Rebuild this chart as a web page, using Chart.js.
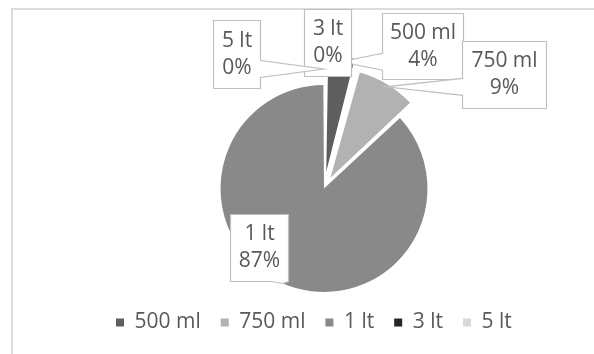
<!DOCTYPE html>
<html>
<head>
<meta charset="utf-8">
<script src="https://cdn.jsdelivr.net/npm/chart.js@4/dist/chart.umd.min.js"></script>
<style>
  html, body { margin: 0; padding: 0; background: #fff; overflow: hidden; width: 594px; height: 354px; }
  #frame { position: absolute; left: 11px; top: 8px; width: 700px; height: 500px; border: 2px solid #dcdcdc; box-sizing: border-box; }
  #wrap { position: absolute; left: 0; top: 0; width: 594px; height: 354px; }
</style>
</head>
<body>
<div id="frame"></div>
<div id="wrap"><canvas id="c" width="594" height="354"></canvas></div>
<script>
// Bottle sizes and their share of the total (percent)
const categories = ['500 ml', '750 ml', '1 lt', '3 lt', '5 lt'];
const shares = [4.2, 8.9, 86.8, 0.05, 0.05];

// Slice look
const sliceColors = ['#5e5e5e', '#b2b2b2', '#898989', '#262626', '#d9d9d9'];
const sliceOffsets = [68, 50, 0, 32, 32];

// Callout boxes: centre relative to the pie centre, box size,
// and how far out along the slice's mid-angle the pointer ends (fraction of radius)
const calloutDx = [98.5, 180, -65, 3.5, -87.5];
const calloutDy = [-143, -114.5, 58.5, -146.5, -135];
const calloutW = [81, 84, 58, 47, 47];
const calloutH = [66, 67, 67, 67, 68];
const calloutTip = [0.95, 0.97, 1.0, 1.0, 1.0];

const TEXT = '#595959';
const FONT = "'Open Sans', sans-serif";
const FONT_SIZE = 21;

Chart.defaults.font.family = FONT;
Chart.defaults.color = TEXT;

function clamp(v, lo, hi) { return Math.max(lo, Math.min(hi, v)); }

// Rectangle callout with a wedge pointing at (tx, ty)
function calloutPath(ctx, L, T, R, B, tx, ty) {
  const base = 17;
  const ox = tx < L ? L - tx : (tx > R ? tx - R : 0);
  const oy = ty < T ? T - ty : (ty > B ? ty - B : 0);
  ctx.beginPath();
  ctx.moveTo(L, T);
  if (ox === 0 && oy === 0) {
    ctx.lineTo(R, T); ctx.lineTo(R, B); ctx.lineTo(L, B); ctx.closePath();
    return;
  }
  if (oy >= ox) {
    const cx = clamp(tx, L + base / 2, R - base / 2);
    if (ty < T) {
      ctx.lineTo(cx - base / 2, T); ctx.lineTo(tx, ty); ctx.lineTo(cx + base / 2, T);
      ctx.lineTo(R, T); ctx.lineTo(R, B); ctx.lineTo(L, B);
    } else {
      ctx.lineTo(R, T); ctx.lineTo(R, B);
      ctx.lineTo(cx + base / 2, B); ctx.lineTo(tx, ty); ctx.lineTo(cx - base / 2, B);
      ctx.lineTo(L, B);
    }
  } else {
    const cy = clamp(ty, T + base / 2, B - base / 2);
    if (tx > R) {
      ctx.lineTo(R, T); ctx.lineTo(R, cy - base / 2); ctx.lineTo(tx, ty); ctx.lineTo(R, cy + base / 2);
      ctx.lineTo(R, B); ctx.lineTo(L, B);
    } else {
      ctx.lineTo(R, T); ctx.lineTo(R, B); ctx.lineTo(L, B);
      ctx.lineTo(L, cy + base / 2); ctx.lineTo(tx, ty); ctx.lineTo(L, cy - base / 2);
    }
  }
  ctx.closePath();
}

const calloutPlugin = {
  id: 'callouts',
  afterDatasetsDraw(chart) {
    const ctx = chart.ctx;
    const meta = chart.getDatasetMeta(0);
    const values = chart.data.datasets[0].data;
    const total = values.reduce((a, b) => a + b, 0);
    meta.data.forEach((arc, i) => {
      const p = arc.getProps(['x', 'y', 'startAngle', 'endAngle', 'outerRadius', 'circumference'], true);
      const mid = (p.startAngle + p.endAngle) / 2;
      // same displacement the arc element applies for its offset
      const off = (arc.options.offset || 0) / 4;
      const fix = 1 - Math.sin(Math.min(Math.PI, p.circumference || 0));
      const shift = off + off * fix;
      const ax = p.x + Math.cos(mid) * shift;
      const ay = p.y + Math.sin(mid) * shift;
      const tx = ax + Math.cos(mid) * p.outerRadius * calloutTip[i];
      const ty = ay + Math.sin(mid) * p.outerRadius * calloutTip[i];
      const cx = p.x + calloutDx[i], cy = p.y + calloutDy[i];
      const L = Math.round(cx - calloutW[i] / 2) + 0.5, R = Math.round(cx + calloutW[i] / 2) + 0.5;
      const T = Math.round(cy - calloutH[i] / 2) + 0.5, B = Math.round(cy + calloutH[i] / 2) + 0.5;
      ctx.save();
      calloutPath(ctx, L, T, R, B, tx, ty);
      ctx.fillStyle = '#ffffff';
      ctx.fill();
      ctx.strokeStyle = '#bfbfbf';
      ctx.lineWidth = 1.2;
      ctx.stroke();
      ctx.fillStyle = TEXT;
      ctx.font = FONT_SIZE + 'px ' + FONT;
      ctx.textAlign = 'center';
      ctx.textBaseline = 'middle';
      const mx = (L + R) / 2, my = (T + B) / 2;
      ctx.fillText(chart.data.labels[i], mx, my - 13.5);
      ctx.fillText(Math.round(values[i] / total * 100) + '%', mx, my + 13.5);
      ctx.restore();
    });
  }
};

new Chart(document.getElementById('c'), {
  type: 'pie',
  data: {
    labels: categories,
    datasets: [{
      data: shares,
      backgroundColor: sliceColors,
      borderColor: sliceColors,
      borderWidth: 0,
      offset: sliceOffsets,
      clip: false
    }]
  },
  options: {
    responsive: false,
    animation: false,
    radius: 103.5,
    layout: { padding: { top: 85, left: 96, right: 42, bottom: 11 } },
    plugins: {
      tooltip: { enabled: false },
      legend: {
        position: 'bottom',
        align: 'start',
        labels: {
          boxWidth: 8,
          boxHeight: 8,
          padding: 20,
          color: TEXT,
          font: { size: FONT_SIZE, family: FONT }
        }
      }
    }
  },
  plugins: [calloutPlugin]
});
</script>
</body>
</html>
